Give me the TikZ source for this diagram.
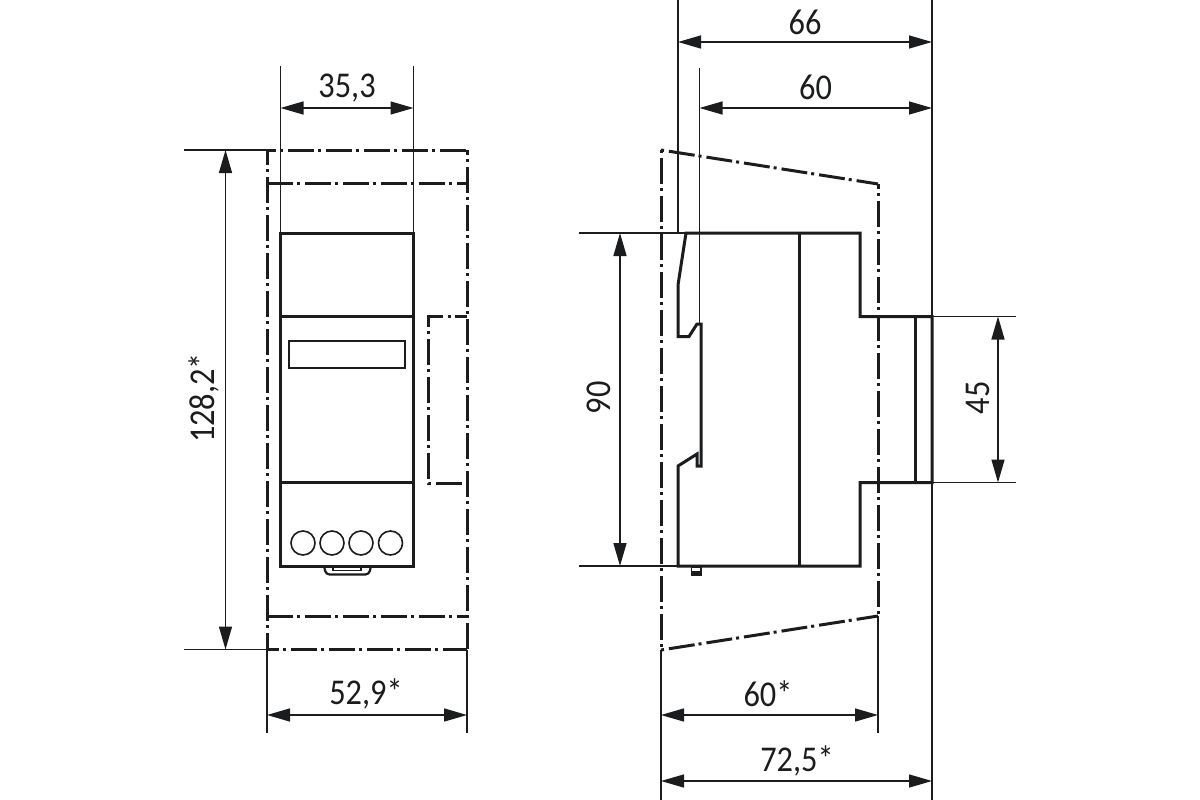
\documentclass[tikz,border=0pt]{standalone}
\usepackage{fontspec}
\setmainfont{Carlito}
\usetikzlibrary{arrows.meta}
\definecolor{ink}{HTML}{1A1C1E}
\newcommand{\dimtxt}[1]{\scalebox{0.98}[1.1]{#1}}
\tikzset{
  thick line/.style={draw=ink,line width=3pt,line join=miter},
  mid line/.style={draw=ink,line width=1.6pt},
  thin line/.style={draw=ink,line width=1.4pt},
  phantom line/.style={draw=ink,line width=3pt,dash pattern=on 26pt off 4pt on 3pt off 5pt},
  dim line/.style={draw=ink,line width=1.4pt,{Triangle[length=23pt,width=13pt]}-{Triangle[length=23pt,width=13pt]},shorten <=0pt,shorten >=0pt},
  dim text/.style={font=\fontsize{33}{33}\selectfont,text=ink,inner sep=0pt}
}
\begin{document}
\begin{tikzpicture}[x=1pt,y=-1pt]
\useasboundingbox[fill=white] (0,0) rectangle (1200,800);
% ---------- front view, phantom outline
\draw[phantom line,dash phase=17pt] (267,150) -- (467,150);
\draw[phantom line] (267,183) -- (467,183);
\draw[phantom line,dash phase=11pt] (267,150) -- (267,650);
\draw[phantom line,dash phase=21pt] (467,150) -- (467,650);
\draw[phantom line] (267,616) -- (467,616);
\draw[phantom line,dash phase=14pt] (267,649.5) -- (467,649.5);
\draw[phantom line,dash phase=14pt] (467,316) -- (428,316) -- (428,483) -- (467,483);
% ---------- front view, body
\draw[thick line] (280.5,233) rectangle (413.5,566);
\draw[thick line] (280.5,316) -- (413.5,316);
\draw[thick line] (280.5,482.5) -- (413.5,482.5);
\draw[mid line] (289,341) rectangle (405,368);
\foreach \cx/\nm in {303/a,332/b,361/c,390.5/d}
  \draw[mid line] (\cx,543) circle (12pt);
\draw[draw=ink,line width=2.2pt,rounded corners=3.5pt] (324,566) -- (326,574.5) -- (369,574.5) -- (371,566);
\draw[draw=ink,line width=1.4pt] (333,567) -- (333,570.5) -- (361,570.5) -- (361,567);
% ---------- front view, dimensions
\coordinate (fl) at (280.5,66);  \coordinate (flb) at (280.5,233);
\coordinate (fr) at (413.5,66);  \coordinate (frb) at (413.5,233);
\draw[thin line] (fl) -- (flb);
\draw[thin line] (fr) -- (frb);
\draw[dim line] (280.5,108) -- (413.5,108);
\node[dim text] (t353) at (347,88) {\dimtxt{35,3}};
\draw[thin line] (184,150) -- (267,150);
\draw[thin line] (184,649.5) -- (267,649.5);
\draw[dim line] (225.5,150) -- (225.5,649.5);
\node[dim text,rotate=90] (t1282) at (204,398) {\dimtxt{128,2*}};
\draw[thin line] (267,650) -- (267,733);
\draw[thin line] (467,650) -- (467,733);
\draw[dim line] (267,715) -- (467,715);
\node[dim text] (t529) at (366,694) {\dimtxt{52,9*}};
% ---------- side view, phantom outline
\draw[phantom line,dash phase=30pt] (661,150) -- (661,650);
\draw[phantom line,dash phase=30pt] (661,150) -- (878,184);
\draw[phantom line,dash phase=21pt] (878,184) -- (878,616);
\draw[phantom line,dash phase=30pt] (661,650) -- (878,616);
% ---------- side view, body
\draw[thick line] (678,285) -- (686,233) -- (860,233) -- (860,316.5) -- (932,316.5) -- (932,482.5) -- (860,482.5) -- (860,566) -- (678,566) -- (678,466) -- (697,454) -- (697,466) -- (701,466) -- (701,324) -- (697,324) -- (689,336.5) -- (678,336.5) -- cycle;
\draw[thick line] (799,233) -- (799,566);
\draw[thick line] (915.5,316.5) -- (915.5,482.5);
\draw[draw=ink,line width=1.6pt,fill=white] (691.5,567) rectangle (701,575.5);
\fill[ink] (691.5,571) rectangle (701,576);
% ---------- side view, dimensions
\draw[thin line] (678,0) -- (678,233);
\draw[thin line] (699.5,68) -- (699.5,325);
\draw[thin line] (932,0) -- (932,800);
\draw[dim line] (678,42) -- (932,42);
\node[dim text] (t66) at (805,22) {\dimtxt{66}};
\draw[dim line] (699.5,108) -- (932,108);
\node[dim text] (t60) at (815.5,87) {\dimtxt{60}};
\draw[thin line] (579,233) -- (686,233);
\draw[thin line] (579,566) -- (678,566);
\draw[dim line] (620,233) -- (620,566);
\node[dim text,rotate=90] (t90) at (599,398) {\dimtxt{90}};
\draw[thin line] (932,316.5) -- (1016,316.5);
\draw[thin line] (932,482.5) -- (1016,482.5);
\draw[dim line] (998,316.5) -- (998,482.5);
\node[dim text,rotate=90] (t45) at (978,398) {\dimtxt{45}};
\draw[thin line] (661,650) -- (661,800);
\draw[thin line] (878,616) -- (878,733);
\draw[dim line] (661,715) -- (878,715);
\node[dim text] (t60s) at (768,694) {\dimtxt{60*}};
\draw[dim line] (661,781) -- (932,781);
\node[dim text] (t725) at (797,761) {\dimtxt{72,5*}};
\end{tikzpicture}
\end{document}
